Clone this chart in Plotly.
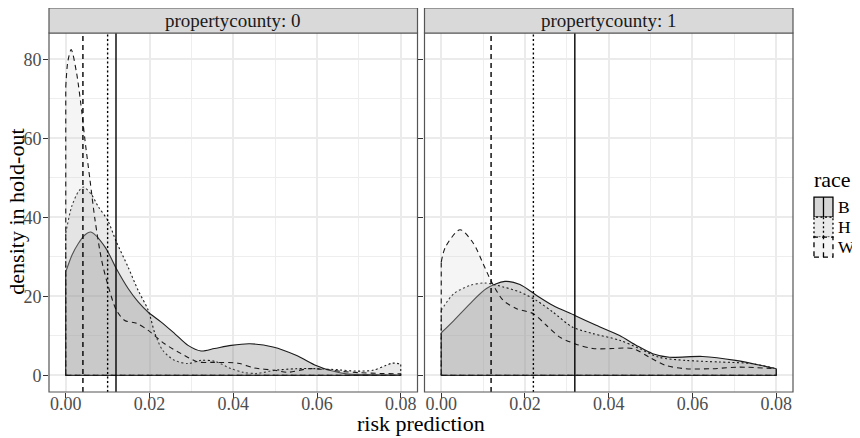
import plotly.graph_objects as go

# ---------------- data ----------------
races = ["B", "H", "W"]
panels = ["propertycounty: 0", "propertycounty: 1"]
x_ticks = [0.00, 0.02, 0.04, 0.06, 0.08]
y_ticks = [0, 20, 40, 60, 80]

# county 0 densities
c0_B_x = [0, 0.0015, 0.003, 0.0045, 0.006, 0.0094, 0.0121, 0.0149, 0.0173, 0.0197, 0.0228, 0.026,
          0.0292, 0.0323, 0.0355, 0.0395, 0.044, 0.0495, 0.055, 0.0598, 0.063, 0.067, 0.072, 0.08]
c0_B_y = [26.2, 30.5, 33.4, 35.5, 36.3, 32.5, 27, 22, 18.6, 16, 13.5, 10.6,
          7.6, 6.2, 6.8, 7.6, 8.0, 7.2, 5.1, 2.5, 1.3, 0.4, 0.2, 0.1]
c0_H_x = [0, 0.0014, 0.003, 0.0042, 0.006, 0.0078, 0.010, 0.0121, 0.0149, 0.0173, 0.0197, 0.0213,
          0.0232, 0.026, 0.0292, 0.0323, 0.0355, 0.0395, 0.0423, 0.0455, 0.05, 0.055, 0.06, 0.0653,
          0.0693, 0.0733, 0.0764, 0.078, 0.08]
c0_H_y = [36, 42.7, 46.5, 47.7, 46, 42.7, 39.3, 33.8, 27.4, 21.5, 16.5, 10.6,
          6.3, 3.8, 3.0, 3.8, 3.6, 1.7, 0.8, 0.5, 1.3, 1.7, 1.7, 1.4,
          1.1, 1.3, 2.5, 3.1, 2.9]
c0_W_x = [0, 0.0005, 0.0013, 0.0026, 0.0038, 0.0046, 0.0058, 0.007, 0.0086, 0.0102, 0.0121, 0.0141,
          0.0169, 0.0197, 0.0236, 0.0276, 0.0316, 0.035, 0.0411, 0.045, 0.05, 0.053, 0.058, 0.062,
          0.066, 0.07, 0.075, 0.08]
c0_W_y = [73, 79.5, 82.5, 76.5, 67, 59.5, 49.4, 39.3, 29, 22.4, 16.5, 13.9,
          13.2, 11.4, 8, 5.5, 3.4, 3.3, 3.1, 1.9, 1.3, 0.8, 1.7, 1.5,
          1.0, 0.7, 0.5, 0.4]

# county 1 densities
c1_B_x = [0, 0.003, 0.0069, 0.0108, 0.0152, 0.0188, 0.0227, 0.0267, 0.0319, 0.037, 0.0426, 0.0466,
          0.0505, 0.0545, 0.0624, 0.0703, 0.08]
c1_B_y = [10.8, 13.9, 18.2, 22, 23.8, 23, 20.3, 17.7, 15.2, 12.7, 10.1, 7.6,
          5.5, 4.6, 4.8, 3.8, 1.7]
c1_H_x = [0, 0.003, 0.0069, 0.0104, 0.0148, 0.0188, 0.0227, 0.0267, 0.0314, 0.0362, 0.0426, 0.0473,
          0.052, 0.0584, 0.0663, 0.074, 0.08]
c1_H_y = [16.5, 20.7, 22.8, 23.4, 22.4, 21.1, 19, 16, 12.2, 10.6, 8.9, 6.8,
          4.6, 3.8, 3.4, 3.0, 1.7]
c1_W_x = [0, 0.001, 0.0045, 0.0077, 0.01, 0.012, 0.0148, 0.018, 0.022, 0.0251, 0.0283, 0.0322,
          0.0362, 0.0409, 0.0458, 0.0497, 0.0537, 0.0584, 0.0648, 0.0711, 0.08]
c1_W_y = [28.7, 32.5, 36.9, 33.4, 28.3, 23.7, 19, 16.9, 15.6, 12.7, 9.7, 7.9,
          6.8, 6.8, 6.8, 4.6, 2.5, 1.7, 1.7, 2.1, 1.7]

# mean risk prediction per race (vertical lines)
c0_means = [0.012, 0.010, 0.0041]
c1_means = [0.0319, 0.022, 0.0119]

densities = [
    {"B": (c0_B_x, c0_B_y), "H": (c0_H_x, c0_H_y), "W": (c0_W_x, c0_W_y)},
    {"B": (c1_B_x, c1_B_y), "H": (c1_H_x, c1_H_y), "W": (c1_W_x, c1_W_y)},
]
means = [c0_means, c1_means]

# ---------------- style ----------------
FONT = "Liberation Serif"
FILL = {"B": "rgba(51,51,51,0.2)", "H": "rgba(152,152,152,0.2)", "W": "rgba(204,204,204,0.2)"}
DASH = {"B": "solid", "H": "2px,2.5px", "W": "5px,4px"}
LINE_C = "#1a1a1a"
BORDER_C = "#555555"

# the page body adds an 8px offset; lay out in window pixels and convert
OFF = 8
WIN_W, WIN_H = 860, 438
W_FIG, H_FIG = WIN_W - OFF, WIN_H - OFF
P_LEFT, P_RIGHT, P_TOP, P_BOTTOM = 48.5, 793, 33, 391.7   # plot box in window px
L = P_LEFT - OFF
R = W_FIG - (P_RIGHT - OFF)
T = P_TOP - OFF
B = H_FIG - (P_BOTTOM - OFF)
PW = P_RIGHT - P_LEFT
PH = P_BOTTOM - P_TOP
STRIP_H = 25


def px2x(px):
    return (px - P_LEFT) / PW


def py2y(py):
    return (P_BOTTOM - py) / PH


fig = go.Figure()
axes = [("x", "y"), ("x2", "y2")]
for p, (xa, ya) in enumerate(axes):
    for r in races:
        xs, ys = densities[p][r]
        fig.add_trace(go.Scatter(
            x=xs, y=ys, xaxis=xa, yaxis=ya, mode="lines",
            line=dict(color=LINE_C, width=1.1, dash=DASH[r], shape="spline", smoothing=0.8),
            fill="tozeroy", fillcolor=FILL[r], showlegend=False, hoverinfo="skip"))
        # outline edges (full polygon outline)
        fig.add_trace(go.Scatter(
            x=[xs[0], xs[0], None, xs[-1], xs[-1], None, xs[0], xs[-1]],
            y=[0, ys[0], None, 0, ys[-1], None, 0, 0],
            xaxis=xa, yaxis=ya, mode="lines",
            line=dict(color=LINE_C, width=1.1, dash=DASH[r]),
            showlegend=False, hoverinfo="skip"))

shapes = []
annotations = []
for p, (xa, ya) in enumerate(axes):
    for r, m in zip(races, means[p]):
        shapes.append(dict(type="line", xref=xa, yref=f"{ya} domain", x0=m, x1=m, y0=0, y1=1,
                           line=dict(color="black", width=1.4, dash=DASH[r]), layer="above"))
    shapes.append(dict(type="rect", xref=f"{xa} domain", yref=f"{ya} domain", x0=0, x1=1, y0=0, y1=1,
                       line=dict(color=BORDER_C, width=1.2), layer="above"))
    shapes.append(dict(type="rect", xref=f"{xa} domain", yref=f"{ya} domain", x0=0, x1=1,
                       y0=1, y1=1 + STRIP_H / PH, fillcolor="#d9d9d9",
                       line=dict(color=BORDER_C, width=1.2), layer="above"))
    annotations.append(dict(text=panels[p], xref=f"{xa} domain", yref=f"{ya} domain", x=0.5,
                            y=1 + STRIP_H / 2 / PH, showarrow=False, xanchor="center",
                            yanchor="middle", font=dict(family=FONT, size=19, color="#1a1a1a")))

# axis titles
annotations.append(dict(text="risk prediction", xref="paper", yref="paper", x=0.5, y=py2y(423),
                        showarrow=False, xanchor="center", yanchor="middle",
                        font=dict(family=FONT, size=22, color="black")))
annotations.append(dict(text="density in hold\u2010out", xref="paper", yref="paper", x=px2x(16),
                        y=py2y(212), textangle=-90, showarrow=False, xanchor="center",
                        yanchor="middle", font=dict(family=FONT, size=22, color="black")))

# legend (drawn manually to mimic ggplot keys)
annotations.append(dict(text="race", xref="paper", yref="paper", x=px2x(812), y=py2y(179),
                        showarrow=False, xanchor="left", yanchor="middle",
                        font=dict(family=FONT, size=22, color="black")))
key_top = 197
key_h = 20
for i, r in enumerate(races):
    y0 = key_top + i * key_h
    y1 = y0 + key_h
    shapes.append(dict(type="rect", xref="paper", yref="paper", x0=px2x(814), x1=px2x(833),
                       y0=py2y(y1), y1=py2y(y0), fillcolor="white", line=dict(width=0)))
    shapes.append(dict(type="rect", xref="paper", yref="paper", x0=px2x(814), x1=px2x(833),
                       y0=py2y(y1), y1=py2y(y0), fillcolor=FILL[r],
                       line=dict(color="black", width=1.3, dash=DASH[r])))
    shapes.append(dict(type="line", xref="paper", yref="paper", x0=px2x(823.5), x1=px2x(823.5),
                       y0=py2y(y1), y1=py2y(y0), line=dict(color="black", width=1.3, dash=DASH[r])))
    annotations.append(dict(text=r, xref="paper", yref="paper", x=px2x(836.5), y=py2y((y0 + y1) / 2),
                            showarrow=False, xanchor="left", yanchor="middle",
                            font=dict(family=FONT, size=17.5, color="black")))

gap = 7
xdom1 = [0, (PW - gap) / 2 / PW]
xdom2 = [1 - (PW - gap) / 2 / PW, 1]

xcommon = dict(range=[-0.004, 0.084], tickvals=x_ticks, ticktext=[f"{v:.2f}" for v in x_ticks],
               showgrid=True, gridcolor="#ebebeb", gridwidth=1.6, zeroline=False,
               ticks="outside", ticklen=5, tickcolor="#333333", tickwidth=1,
               ticklabelstandoff=-10,
               tickfont=dict(family=FONT, size=18, color="#4d4d4d"),
               minor=dict(dtick=0.01, tick0=0, showgrid=True, gridcolor="#eeeeee", gridwidth=1.1),
               showline=False, automargin=False)
ycommon = dict(range=[-4.2, 86.7], tickvals=y_ticks, showgrid=True, gridcolor="#ebebeb",
               gridwidth=1.6, zeroline=False, ticks="outside", ticklen=5, tickcolor="#333333",
               tickwidth=1, ticklabelstandoff=-2,
               minor=dict(dtick=10, tick0=0, showgrid=True, gridcolor="#eeeeee", gridwidth=1.1),
               showline=False, automargin=False)

fig.update_layout(
    width=W_FIG, height=H_FIG,
    margin=dict(l=L, r=R, t=T, b=B, pad=0),
    paper_bgcolor="white", plot_bgcolor="white",
    xaxis=dict(domain=xdom1, anchor="y", **xcommon),
    xaxis2=dict(domain=xdom2, anchor="y2", **xcommon),
    yaxis=dict(anchor="x", tickfont=dict(family=FONT, size=18, color="#4d4d4d"), **ycommon),
    yaxis2=dict(anchor="x2", matches="y", showticklabels=False, **ycommon),
    shapes=shapes, annotations=annotations, showlegend=False,
)

fig.write_html("out.html")
